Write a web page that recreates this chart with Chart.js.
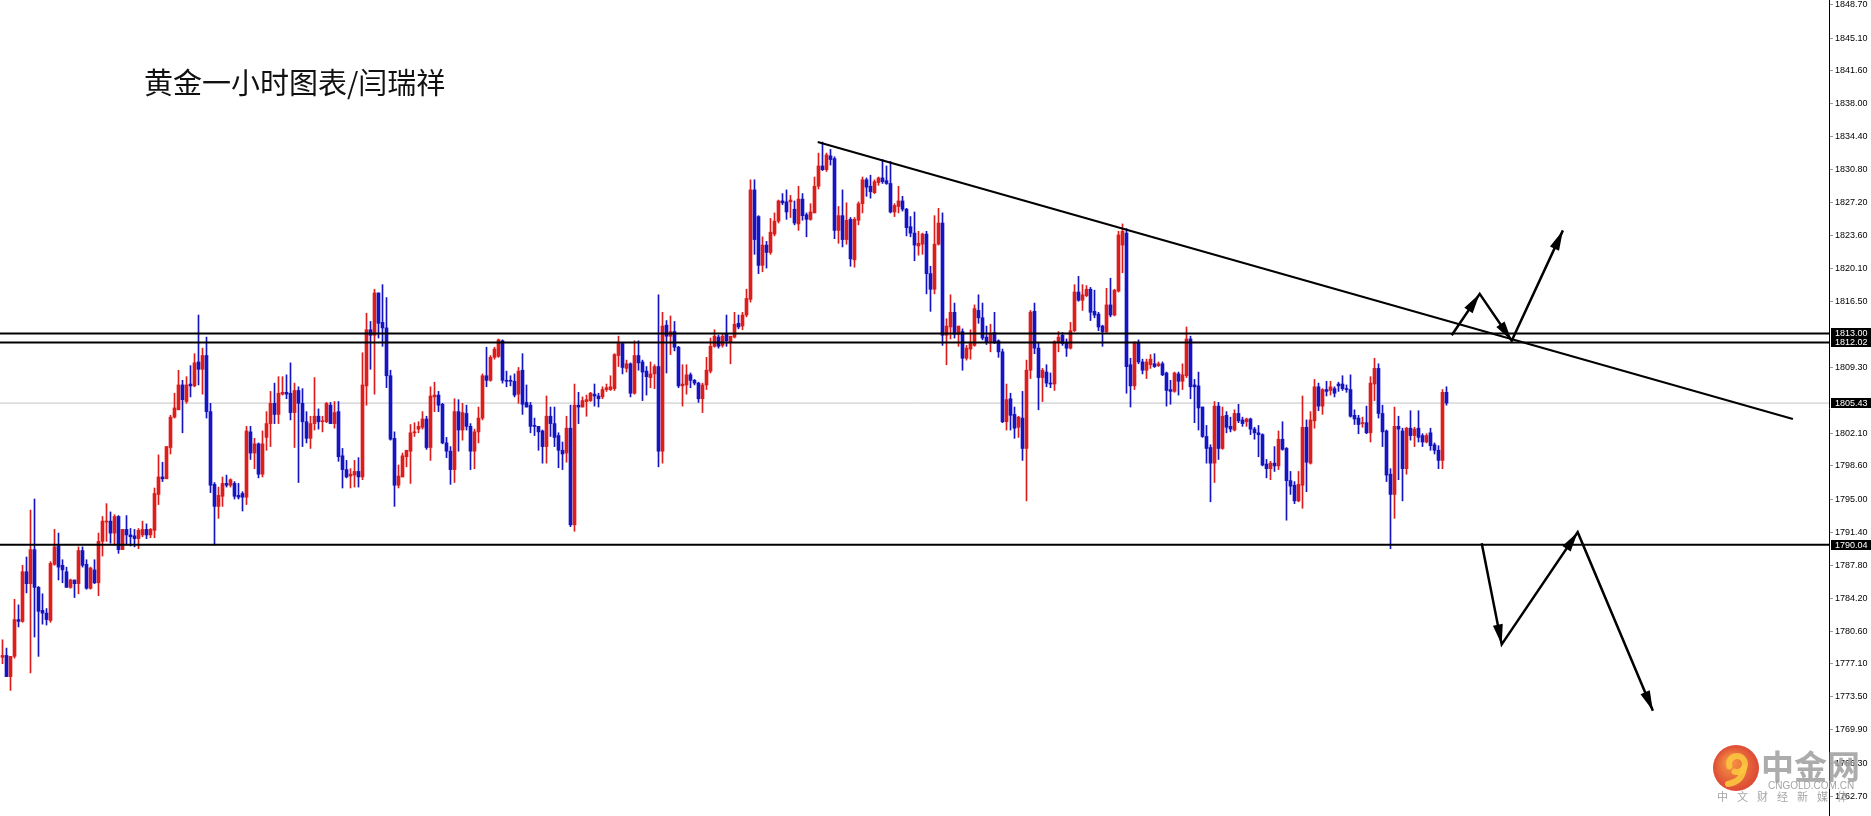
<!DOCTYPE html>
<html>
<head>
<meta charset="utf-8">
<title>黄金一小时图表</title>
<script src="https://cdn.jsdelivr.net/npm/chart.js@4/dist/chart.umd.min.js"></script>
<style>
    html, body { margin: 0; padding: 0; background: #fff; overflow: hidden; }
    canvas { display: block; }
</style>
</head>
<body>
<canvas id="goldChart" width="1871" height="816"></canvas>
<script>
// hourly candles (oldest first)
const opens = [
    1777.8,1778.0,1775.7,1777.9,1781.9,1781.7,1787.1,1785.8,1789.5,1785.4,
    1782.9,1782.6,1781.8,1787.9,1789.9,1787.8,1787.1,1785.4,1786.2,1785.8,
    1789.4,1787.9,1785.3,1787.3,1785.9,1790.4,1792.5,1792.6,1791.3,1793.1,
    1789.5,1791.7,1791.1,1791.0,1790.7,1791.1,1791.7,1791.1,1791.6,1795.5,
    1797.4,1797.2,1800.6,1803.9,1804.7,1807.4,1805.6,1807.5,1807.3,1809.9,
    1809.1,1810.6,1804.5,1796.6,1794.2,1795.3,1796.7,1796.5,1796.7,1795.4,
    1795.6,1795.2,1802.3,1800.0,1801.0,1797.7,1801.7,1803.2,1805.4,1804.2,
    1806.4,1806.6,1806.5,1804.4,1806.8,1805.4,1803.4,1801.6,1803.2,1804.0,
    1803.4,1803.4,1805.2,1803.2,1804.5,1799.7,1798.2,1797.5,1797.6,1798.0,
    1797.4,1807.3,1813.4,1812.8,1817.4,1814.2,1813.6,1808.4,1801.6,1796.5,
    1797.4,1799.6,1800.2,1802.2,1802.6,1802.8,1803.7,1800.6,1806.1,1806.3,
    1805.3,1801.1,1800.2,1798.2,1804.5,1802.5,1804.3,1802.9,1800.2,1802.3,
    1803.8,1808.4,1807.9,1810.4,1810.5,1812.2,1807.9,1807.9,1807.8,1806.4,
    1809.0,1805.5,1805.2,1803.0,1802.9,1802.4,1800.7,1804.0,1803.2,1801.9,
    1800.3,1800.0,1802.7,1792.2,1805.2,1805.0,1805.6,1805.7,1806.4,1806.2,
    1806.1,1806.9,1806.9,1807.0,1810.6,1811.9,1809.2,1809.7,1806.5,1810.6,
    1809.9,1808.9,1808.2,1808.6,1809.4,1800.2,1813.9,1812.7,1813.2,1811.5,
    1807.3,1807.4,1808.5,1807.9,1807.6,1805.9,1807.4,1808.9,1811.6,1812.6,
    1811.7,1813.0,1812.1,1812.6,1814.1,1813.8,1815.0,1816.7,1828.6,1825.7,
    1820.4,1822.6,1821.8,1823.8,1825.2,1827.4,1827.3,1827.3,1826.5,1824.9,
    1827.6,1825.9,1825.4,1826.1,1829.0,1831.2,1830.8,1832.3,1832.0,1824.2,
    1825.8,1823.2,1825.4,1821.0,1825.3,1827.1,1829.7,1829.0,1828.3,1829.4,
    1829.9,1829.6,1829.3,1826.2,1826.8,1827.4,1826.5,1824.6,1823.9,1822.5,
    1822.7,1823.8,1819.5,1817.8,1822.7,1825.0,1812.8,1813.7,1815.3,1812.9,
    1813.2,1810.3,1811.3,1811.7,1815.5,1814.7,1812.6,1812.1,1813.1,1812.2,
    1811.0,1803.4,1805.9,1804.2,1802.8,1803.8,1800.5,1809.0,1815.4,1811.4,
    1808.2,1808.8,1807.6,1807.5,1812.0,1812.8,1812.0,1811.4,1813.3,1817.5,
    1816.6,1817.1,1817.8,1815.4,1815.1,1813.8,1813.2,1816.1,1815.0,1817.6,
    1822.6,1823.9,1809.6,1807.3,1812.0,1809.9,1809.0,1809.6,1809.7,1809.5,
    1809.7,1808.7,1806.9,1806.7,1808.6,1807.8,1808.4,1812.4,1807.4,1807.3,
    1805.0,1801.8,1800.6,1798.9,1805.1,1800.5,1804.1,1802.9,1802.5,1804.3,
    1803.6,1803.4,1803.7,1802.6,1802.2,1802.0,1798.8,1798.3,1798.9,1798.6,
    1801.5,1800.5,1797.0,1796.5,1794.8,1796.5,1802.8,1798.9,1803.5,1807.2,
    1805.1,1806.9,1806.8,1807.0,1807.5,1807.5,1807.0,1806.9,1804.1,1803.8,
    1803.2,1803.3,1802.2,1807.5,1809.2,1804.3,1802.4,1797.7,1795.5,1802.9,
    1802.4,1798.3,1802.7,1801.9,1802.7,1801.9,1801.2,1802.2,1800.9,1800.3,
    1799.2,1806.6
];
const highs = [
    1779.7,1778.8,1777.9,1784.1,1783.5,1787.8,1788.7,1793.8,1795.0,1785.5,
    1784.7,1783.1,1788.2,1791.7,1791.3,1788.4,1787.6,1786.3,1786.2,1789.8,
    1789.8,1788.4,1787.6,1788.4,1791.3,1793.1,1794.5,1793.6,1793.3,1793.2,
    1791.7,1793.2,1791.8,1791.7,1791.8,1792.6,1792.3,1791.8,1796.2,1799.8,
    1799.0,1800.7,1804.1,1806.5,1809.0,1807.9,1808.3,1809.5,1810.8,1815.0,
    1811.4,1812.6,1805.4,1796.8,1796.3,1797.4,1797.6,1797.2,1796.9,1796.7,
    1795.8,1802.9,1802.9,1801.6,1801.1,1802.4,1804.5,1806.7,1807.6,1808.3,
    1808.3,1808.5,1809.8,1807.6,1807.2,1807.0,1804.5,1804.0,1808.2,1804.8,
    1804.0,1805.5,1805.5,1805.6,1805.6,1800.5,1799.2,1798.3,1799.2,1799.5,
    1810.9,1815.2,1814.3,1817.8,1817.4,1818.3,1816.9,1809.0,1802.3,1798.7,
    1800.0,1800.3,1803.1,1803.3,1803.4,1804.5,1804.0,1807.2,1807.7,1806.7,
    1805.4,1801.7,1800.7,1805.9,1805.8,1805.4,1805.2,1803.2,1802.6,1805.0,
    1808.6,1811.5,1810.6,1811.5,1812.4,1812.3,1808.9,1808.4,1808.6,1809.3,
    1810.8,1807.4,1805.5,1803.8,1802.9,1802.5,1806.2,1805.0,1805.0,1802.2,
    1801.2,1804.0,1805.2,1807.5,1806.6,1806.1,1806.3,1806.6,1807.5,1806.5,
    1807.2,1807.5,1808.4,1810.8,1812.7,1812.0,1810.1,1809.8,1812.2,1812.2,
    1810.1,1809.4,1809.9,1809.6,1817.2,1815.3,1814.4,1814.9,1814.3,1811.6,
    1809.6,1809.6,1808.7,1808.0,1807.7,1807.6,1810.4,1812.5,1813.4,1812.8,
    1813.0,1815.0,1812.7,1815.3,1815.0,1815.3,1817.8,1829.7,1829.7,1825.8,
    1823.5,1823.0,1825.5,1826.1,1827.5,1828.2,1828.6,1828.0,1827.4,1829.0,
    1828.2,1826.1,1827.1,1830.0,1832.6,1833.8,1832.6,1833.0,1832.2,1826.8,
    1828.6,1827.2,1825.6,1825.6,1827.3,1830.0,1829.9,1830.2,1829.7,1830.0,
    1831.9,1831.2,1831.7,1827.1,1829.0,1827.9,1826.6,1825.7,1826.2,1824.1,
    1823.9,1824.1,1820.3,1825.8,1826.6,1826.1,1814.6,1817.2,1816.3,1813.8,
    1813.5,1811.7,1813.4,1816.1,1817.2,1816.3,1813.8,1814.0,1815.3,1812.3,
    1811.3,1807.5,1806.5,1805.0,1804.0,1806.7,1810.1,1815.5,1816.3,1812.0,
    1809.2,1809.6,1808.7,1812.2,1813.2,1813.1,1812.4,1814.2,1818.3,1819.2,
    1818.3,1818.2,1818.0,1817.7,1815.3,1813.9,1817.9,1819.0,1817.8,1824.1,
    1824.9,1824.4,1810.3,1812.1,1812.3,1810.2,1810.2,1810.7,1810.8,1809.9,
    1809.9,1808.8,1807.9,1808.8,1808.8,1809.7,1813.7,1812.7,1808.0,1808.8,
    1805.0,1803.0,1800.9,1805.6,1805.5,1805.0,1804.5,1803.9,1804.7,1805.3,
    1803.9,1803.8,1803.8,1802.8,1803.0,1802.1,1799.3,1799.1,1800.7,1802.4,
    1803.4,1800.6,1798.0,1796.9,1798.0,1806.2,1803.6,1804.5,1808.0,1807.6,
    1807.0,1807.8,1807.8,1807.2,1807.7,1808.4,1807.4,1808.5,1804.7,1804.1,
    1803.9,1805.1,1808.3,1810.3,1809.7,1805.2,1802.5,1798.3,1805.0,1804.0,
    1802.7,1802.8,1804.6,1802.8,1804.6,1802.1,1802.1,1802.7,1801.1,1800.8,
    1806.9,1807.2
];
const lows = [
    1777.1,1775.7,1774.2,1777.7,1781.1,1781.6,1784.8,1776.1,1780.0,1777.9,
    1781.4,1781.3,1781.6,1787.8,1786.2,1785.9,1785.4,1785.3,1784.3,1784.7,
    1787.6,1785.2,1785.2,1785.8,1784.5,1788.8,1790.4,1790.2,1790.0,1789.1,
    1789.5,1790.0,1789.9,1789.8,1789.6,1790.9,1790.7,1790.8,1790.8,1794.4,
    1796.9,1797.2,1799.9,1803.8,1804.7,1802.2,1805.4,1806.1,1807.2,1807.4,
    1806.4,1803.8,1795.7,1790.0,1792.9,1794.2,1796.3,1796.3,1795.0,1795.0,
    1793.7,1794.4,1799.3,1798.3,1797.3,1797.4,1800.3,1800.7,1803.2,1803.2,
    1806.3,1805.9,1803.6,1800.6,1796.8,1800.7,1801.1,1800.5,1802.5,1802.6,
    1802.3,1803.3,1803.2,1802.7,1799.1,1796.2,1797.3,1796.2,1796.3,1796.3,
    1797.1,1805.2,1809.1,1806.4,1812.5,1811.6,1807.1,1801.4,1794.2,1796.2,
    1797.4,1798.5,1796.7,1801.8,1802.2,1802.6,1800.4,1799.2,1804.5,1804.5,
    1801.0,1799.5,1796.6,1796.8,1800.2,1801.4,1802.5,1798.2,1798.3,1801.1,
    1803.6,1807.2,1807.8,1810.2,1810.4,1807.6,1807.2,1807.3,1806.1,1805.4,
    1804.2,1805.0,1802.2,1801.9,1800.3,1798.9,1798.9,1801.8,1800.7,1798.4,
    1798.2,1799.0,1792.0,1791.5,1803.2,1805.0,1804.0,1805.6,1805.1,1805.0,
    1805.9,1806.7,1806.8,1806.8,1809.4,1808.6,1808.8,1806.1,1806.4,1809.0,
    1805.7,1806.3,1807.1,1807.0,1798.5,1798.9,1808.7,1810.7,1811.1,1807.1,
    1805.1,1806.4,1807.1,1807.4,1805.5,1804.4,1806.9,1808.7,1811.5,1811.4,
    1811.5,1811.6,1809.7,1812.5,1813.5,1813.4,1814.8,1816.4,1821.6,1819.5,
    1819.7,1820.1,1821.6,1823.6,1825.0,1827.0,1825.4,1825.6,1824.8,1824.2,
    1825.3,1823.5,1825.3,1826.1,1828.7,1830.7,1830.6,1831.3,1823.3,1822.8,
    1822.4,1822.7,1820.3,1820.2,1824.8,1826.1,1827.9,1827.7,1828.2,1829.1,
    1829.3,1829.2,1826.1,1825.7,1826.1,1826.3,1823.6,1823.5,1820.9,1821.5,
    1821.6,1817.3,1815.4,1817.3,1822.6,1811.7,1809.6,1812.4,1812.5,1811.6,
    1809.0,1810.1,1810.2,1811.6,1814.1,1812.3,1811.8,1811.0,1811.9,1810.4,
    1803.3,1802.5,1802.5,1801.6,1801.7,1799.2,1794.8,1808.1,1810.8,1804.7,
    1805.6,1807.2,1807.1,1806.8,1811.0,1811.7,1810.5,1811.3,1813.2,1816.5,
    1815.5,1817.0,1814.4,1814.7,1813.3,1811.6,1813.1,1814.8,1814.9,1817.5,
    1819.6,1806.5,1805.0,1806.9,1809.7,1808.6,1808.1,1809.2,1809.3,1809.4,
    1808.4,1805.1,1805.3,1806.6,1806.3,1806.9,1808.2,1805.9,1803.3,1802.5,
    1801.7,1798.9,1794.7,1796.8,1799.3,1800.4,1802.2,1802.3,1802.4,1803.3,
    1802.9,1802.9,1802.0,1801.5,1799.6,1798.6,1797.3,1797.1,1798.0,1798.2,
    1800.3,1792.7,1795.5,1794.5,1794.7,1794.0,1795.8,1798.8,1802.7,1804.6,
    1804.2,1806.2,1806.3,1806.1,1806.7,1806.8,1806.6,1803.9,1803.1,1802.1,
    1802.8,1802.1,1801.2,1805.7,1803.8,1800.7,1796.9,1789.6,1792.9,1797.1,
    1794.8,1797.7,1801.4,1800.7,1801.2,1800.7,1801.1,1800.3,1799.9,1798.3,
    1798.3,1805.2
];
const closes = [
    1778.0,1775.7,1777.9,1781.9,1781.7,1787.1,1785.8,1789.5,1785.4,1782.8,
    1782.6,1781.9,1788.0,1789.8,1787.6,1787.3,1785.4,1786.2,1785.8,1789.4,
    1787.8,1785.3,1787.5,1785.9,1790.4,1792.6,1792.6,1791.3,1793.1,1789.5,
    1791.7,1791.1,1790.9,1790.7,1791.6,1791.7,1791.1,1791.7,1795.6,1797.4,
    1797.2,1800.7,1803.9,1804.9,1807.4,1805.8,1807.4,1807.3,1809.8,1809.1,
    1810.6,1804.5,1796.5,1794.2,1795.4,1796.7,1796.5,1797.1,1795.3,1795.2,
    1795.2,1802.4,1800.0,1801.0,1797.7,1801.0,1803.2,1805.4,1804.2,1806.5,
    1806.6,1806.4,1804.4,1806.8,1805.4,1803.4,1801.6,1803.2,1804.0,1803.4,
    1803.5,1805.4,1803.2,1804.4,1799.6,1798.2,1797.4,1797.7,1798.0,1797.4,
    1807.4,1813.4,1812.8,1817.4,1814.1,1813.6,1808.4,1801.5,1796.5,1797.5,
    1799.7,1800.3,1802.2,1802.3,1802.9,1803.7,1800.6,1806.2,1806.3,1805.2,
    1801.1,1800.2,1798.2,1804.5,1802.5,1804.4,1802.9,1800.2,1802.3,1803.8,
    1808.4,1807.9,1810.4,1811.3,1812.3,1807.9,1807.8,1807.8,1806.3,1808.9,
    1805.3,1805.0,1802.9,1802.9,1802.3,1800.7,1804.0,1803.2,1801.7,1800.3,
    1799.9,1802.7,1792.2,1805.2,1805.0,1805.7,1805.8,1806.5,1806.2,1805.9,
    1806.9,1807.1,1807.2,1810.7,1811.9,1809.3,1809.7,1806.5,1810.6,1809.8,
    1808.8,1808.3,1808.6,1809.4,1800.2,1813.8,1812.7,1813.2,1811.5,1807.3,
    1807.5,1808.5,1807.9,1807.6,1805.9,1807.4,1809.0,1811.6,1812.7,1811.6,
    1812.7,1812.2,1812.7,1814.0,1813.7,1815.0,1816.8,1828.6,1823.2,1820.4,
    1822.6,1821.8,1824.0,1825.2,1827.4,1827.2,1826.2,1827.5,1825.0,1827.6,
    1825.8,1825.4,1826.2,1829.0,1831.2,1830.8,1832.4,1831.9,1824.2,1825.8,
    1823.2,1825.3,1821.1,1825.4,1827.1,1829.7,1828.9,1828.4,1829.5,1829.9,
    1829.5,1829.3,1826.2,1826.9,1827.4,1826.5,1824.5,1823.9,1822.6,1822.8,
    1823.8,1819.5,1817.8,1822.7,1825.0,1812.8,1813.8,1815.3,1812.9,1813.8,
    1810.3,1811.4,1811.9,1815.7,1814.7,1812.5,1812.1,1813.0,1812.0,1811.0,
    1803.4,1805.8,1804.1,1802.7,1803.9,1800.5,1809.0,1815.3,1811.4,1808.2,
    1809.0,1807.6,1807.5,1812.1,1812.6,1811.9,1811.4,1813.3,1817.5,1816.6,
    1817.2,1817.8,1815.3,1815.0,1813.7,1813.2,1816.1,1815.0,1817.7,1823.7,
    1824.1,1809.4,1807.3,1812.0,1809.9,1809.0,1809.9,1810.2,1809.4,1809.7,
    1808.5,1806.8,1806.7,1808.7,1807.8,1808.5,1812.4,1807.2,1807.2,1804.9,
    1801.8,1800.5,1798.9,1805.1,1800.5,1804.0,1802.8,1802.6,1804.3,1803.5,
    1803.2,1803.7,1802.6,1802.2,1802.0,1798.7,1798.3,1798.9,1798.6,1801.5,
    1800.4,1797.0,1796.4,1794.8,1796.6,1802.8,1799.0,1803.6,1807.2,1805.1,
    1806.9,1806.7,1807.2,1806.5,1807.3,1807.0,1806.9,1804.0,1803.7,1803.1,
    1803.3,1802.2,1807.6,1809.2,1804.3,1802.3,1797.6,1795.5,1802.9,1802.6,
    1798.3,1802.7,1801.9,1802.6,1801.7,1801.2,1801.9,1800.8,1800.3,1799.2,
    1806.6,1805.43
];

// price axis labels
const yTickValues = [1848.70, 1845.10, 1841.60, 1838.00, 1834.40, 1830.80, 1827.20, 1823.60,
    1820.10, 1816.50, 1809.30, 1802.10, 1798.60, 1795.00, 1791.40, 1787.80, 1784.20,
    1780.60, 1777.10, 1773.50, 1769.90, 1766.30, 1762.70];

// horizontal levels, current price, trend line
const levelPrices = [1813.00, 1812.02, 1790.04];
const bidPrice = 1805.43;
const trendBars = [203.8, 447.6];
const trendPrices = [1833.8, 1803.7];

// hand drawn scenario arrows (bar index, price)
const upArrowBars = [362.3, 369.3, 377.3, 390.1];
const upArrowPrices = [1812.8, 1817.3, 1812.2, 1824.2];
const downArrowBars = [369.8, 374.8, 393.8, 412.6];
const downArrowPrices = [1790.2, 1779.2, 1791.4, 1772.0];

const X_MIN = -0.625, X_MAX = 456.625;
const Y_MIN = 1760.55, Y_MAX = 1849.24;

const UP_COLOR = '#dd1c1c';
const DOWN_COLOR = '#1414c2';
const AXIS_FONT = '"Liberation Sans", Arial, sans-serif';

const candleColors = closes.map((c, i) => c >= opens[i] ? UP_COLOR : DOWN_COLOR);
const wickData = highs.map((h, i) => ({ x: i, y: [lows[i], h] }));
const bodyData = opens.map((o, i) => ({ x: i, y: [o, closes[i]] }));

function flatLine(price) {
    return [{ x: X_MIN, y: price }, { x: X_MAX, y: price }];
}
function pathPoints(bars, prices) {
    return bars.map((b, i) => ({ x: b, y: prices[i] }));
}

const lineStyle = {
    type: 'line',
    borderColor: '#000',
    borderWidth: 2,
    pointRadius: 0,
    tension: 0,
    fill: false,
    order: 1
};

const datasets = [
    Object.assign({}, lineStyle, { data: flatLine(bidPrice), borderColor: '#c4c4c4', borderWidth: 1, order: 4 }),
    {
        type: 'bar',
        data: wickData,
        backgroundColor: candleColors,
        barThickness: 1,
        grouped: false,
        borderWidth: 0,
        order: 3
    },
    {
        type: 'bar',
        data: bodyData,
        backgroundColor: candleColors,
        barThickness: 3,
        minBarLength: 1,
        grouped: false,
        borderWidth: 0,
        order: 2
    }
];
levelPrices.forEach(p => datasets.push(Object.assign({}, lineStyle, { data: flatLine(p) })));
datasets.push(Object.assign({}, lineStyle, { data: pathPoints(trendBars, trendPrices) }));
datasets.push(Object.assign({}, lineStyle, { data: pathPoints(upArrowBars, upArrowPrices), borderWidth: 2.5 }));
datasets.push(Object.assign({}, lineStyle, { data: pathPoints(downArrowBars, downArrowPrices), borderWidth: 2.5 }));

// Arrow heads at the end of every arrow segment
function drawHead(ctx, x0, y0, x1, y1) {
    const a = Math.atan2(y1 - y0, x1 - x0);
    const len = 20, half = 5;
    const bx = x1 - len * Math.cos(a), by = y1 - len * Math.sin(a);
    ctx.beginPath();
    ctx.moveTo(x1, y1);
    ctx.lineTo(bx + half * Math.sin(a), by - half * Math.cos(a));
    ctx.lineTo(bx - half * Math.sin(a), by + half * Math.cos(a));
    ctx.closePath();
    ctx.fill();
}

const arrowHeads = {
    id: 'arrowHeads',
    afterDatasetsDraw(chart) {
        const { ctx, scales: { x, y } } = chart;
        ctx.save();
        ctx.fillStyle = '#000';
        [[upArrowBars, upArrowPrices], [downArrowBars, downArrowPrices]].forEach(([bars, prices]) => {
            for (let i = 1; i < bars.length; i++) {
                drawHead(ctx,
                    x.getPixelForValue(bars[i - 1]), y.getPixelForValue(prices[i - 1]),
                    x.getPixelForValue(bars[i]), y.getPixelForValue(prices[i]));
            }
        });
        ctx.restore();
    }
};

// Black price tags on the axis + title + watermark
const overlay = {
    id: 'overlay',
    afterDraw(chart) {
        const { ctx, scales: { y } } = chart;
        const left = y.left + 2;
        ctx.save();
        ctx.font = '9px ' + AXIS_FONT;
        ctx.textBaseline = 'middle';
        levelPrices.concat([bidPrice]).forEach(p => {
            const py = Math.round(y.getPixelForValue(p));
            ctx.fillStyle = '#000';
            ctx.fillRect(left, py - 5, chart.width - left, 10);
            ctx.fillStyle = '#fff';
            ctx.fillText(p.toFixed(2), left + 4, py + 0.5);
        });

        // title
        ctx.fillStyle = '#111';
        ctx.font = '29px "Noto Sans CJK SC", sans-serif';
        ctx.textBaseline = 'middle';
        ctx.fillText('黄金一小时图表/闫瑞祥', 144, 83);

        // watermark
        ctx.globalAlpha = 0.9;
        const cx = 1736, cy = 768;
        const grad = ctx.createRadialGradient(cx - 6, cy - 6, 4, cx, cy, 24);
        grad.addColorStop(0, '#f3812e');
        grad.addColorStop(1, '#d8321e');
        ctx.fillStyle = grad;
        ctx.beginPath();
        ctx.arc(cx, cy, 23, 0, Math.PI * 2);
        ctx.fill();
        ctx.strokeStyle = '#fbc63f';
        ctx.lineWidth = 6;
        ctx.lineCap = 'round';
        ctx.beginPath();
        ctx.arc(cx + 1, cy - 4, 8, Math.PI * 0.9, Math.PI * 2.6);
        ctx.stroke();
        ctx.beginPath();
        ctx.moveTo(cx + 8, cy);
        ctx.quadraticCurveTo(cx + 6, cy + 14, cx - 8, cy + 16);
        ctx.stroke();

        ctx.fillStyle = '#a3a3a3';
        ctx.font = 'bold 33px "Noto Sans CJK SC", sans-serif';
        ctx.textBaseline = 'alphabetic';
        ctx.fillText('中金网', 1761, 779);
        ctx.font = '10px ' + AXIS_FONT;
        ctx.fillStyle = '#9a9a9a';
        ctx.fillText('CNGOLD.COM.CN', 1768, 789);
        ctx.font = '11px "Noto Sans CJK SC", sans-serif';
        '中文财经新媒体'.split('').forEach((ch, i) => ctx.fillText(ch, 1717 + i * 20, 801));
        ctx.restore();
    }
};

const ctx = document.getElementById('goldChart').getContext('2d');
new Chart(ctx, {
    type: 'bar',
    data: { datasets: datasets },
    options: {
        responsive: false,
        animation: false,
        devicePixelRatio: 1,
        layout: { padding: 0 },
        plugins: {
            legend: { display: false },
            tooltip: { enabled: false }
        },
        scales: {
            x: {
                type: 'linear',
                display: false,
                min: X_MIN,
                max: X_MAX,
                offset: false
            },
            y: {
                position: 'right',
                min: Y_MIN,
                max: Y_MAX,
                afterBuildTicks: scale => {
                    scale.ticks = yTickValues.map(v => ({ value: v }));
                },
                afterFit: scale => {
                    scale.width = 42;
                    scale.paddingTop = 0;
                    scale.paddingBottom = 0;
                },
                border: { display: true, color: '#000', width: 1 },
                grid: {
                    display: true,
                    drawOnChartArea: false,
                    drawTicks: true,
                    tickLength: 4,
                    color: '#999'
                },
                ticks: {
                    autoSkip: false,
                    padding: 2,
                    color: '#000',
                    font: { family: AXIS_FONT, size: 9 },
                    callback: v => Number(v).toFixed(2)
                }
            }
        }
    },
    plugins: [arrowHeads, overlay]
});
</script>
</body>
</html>
